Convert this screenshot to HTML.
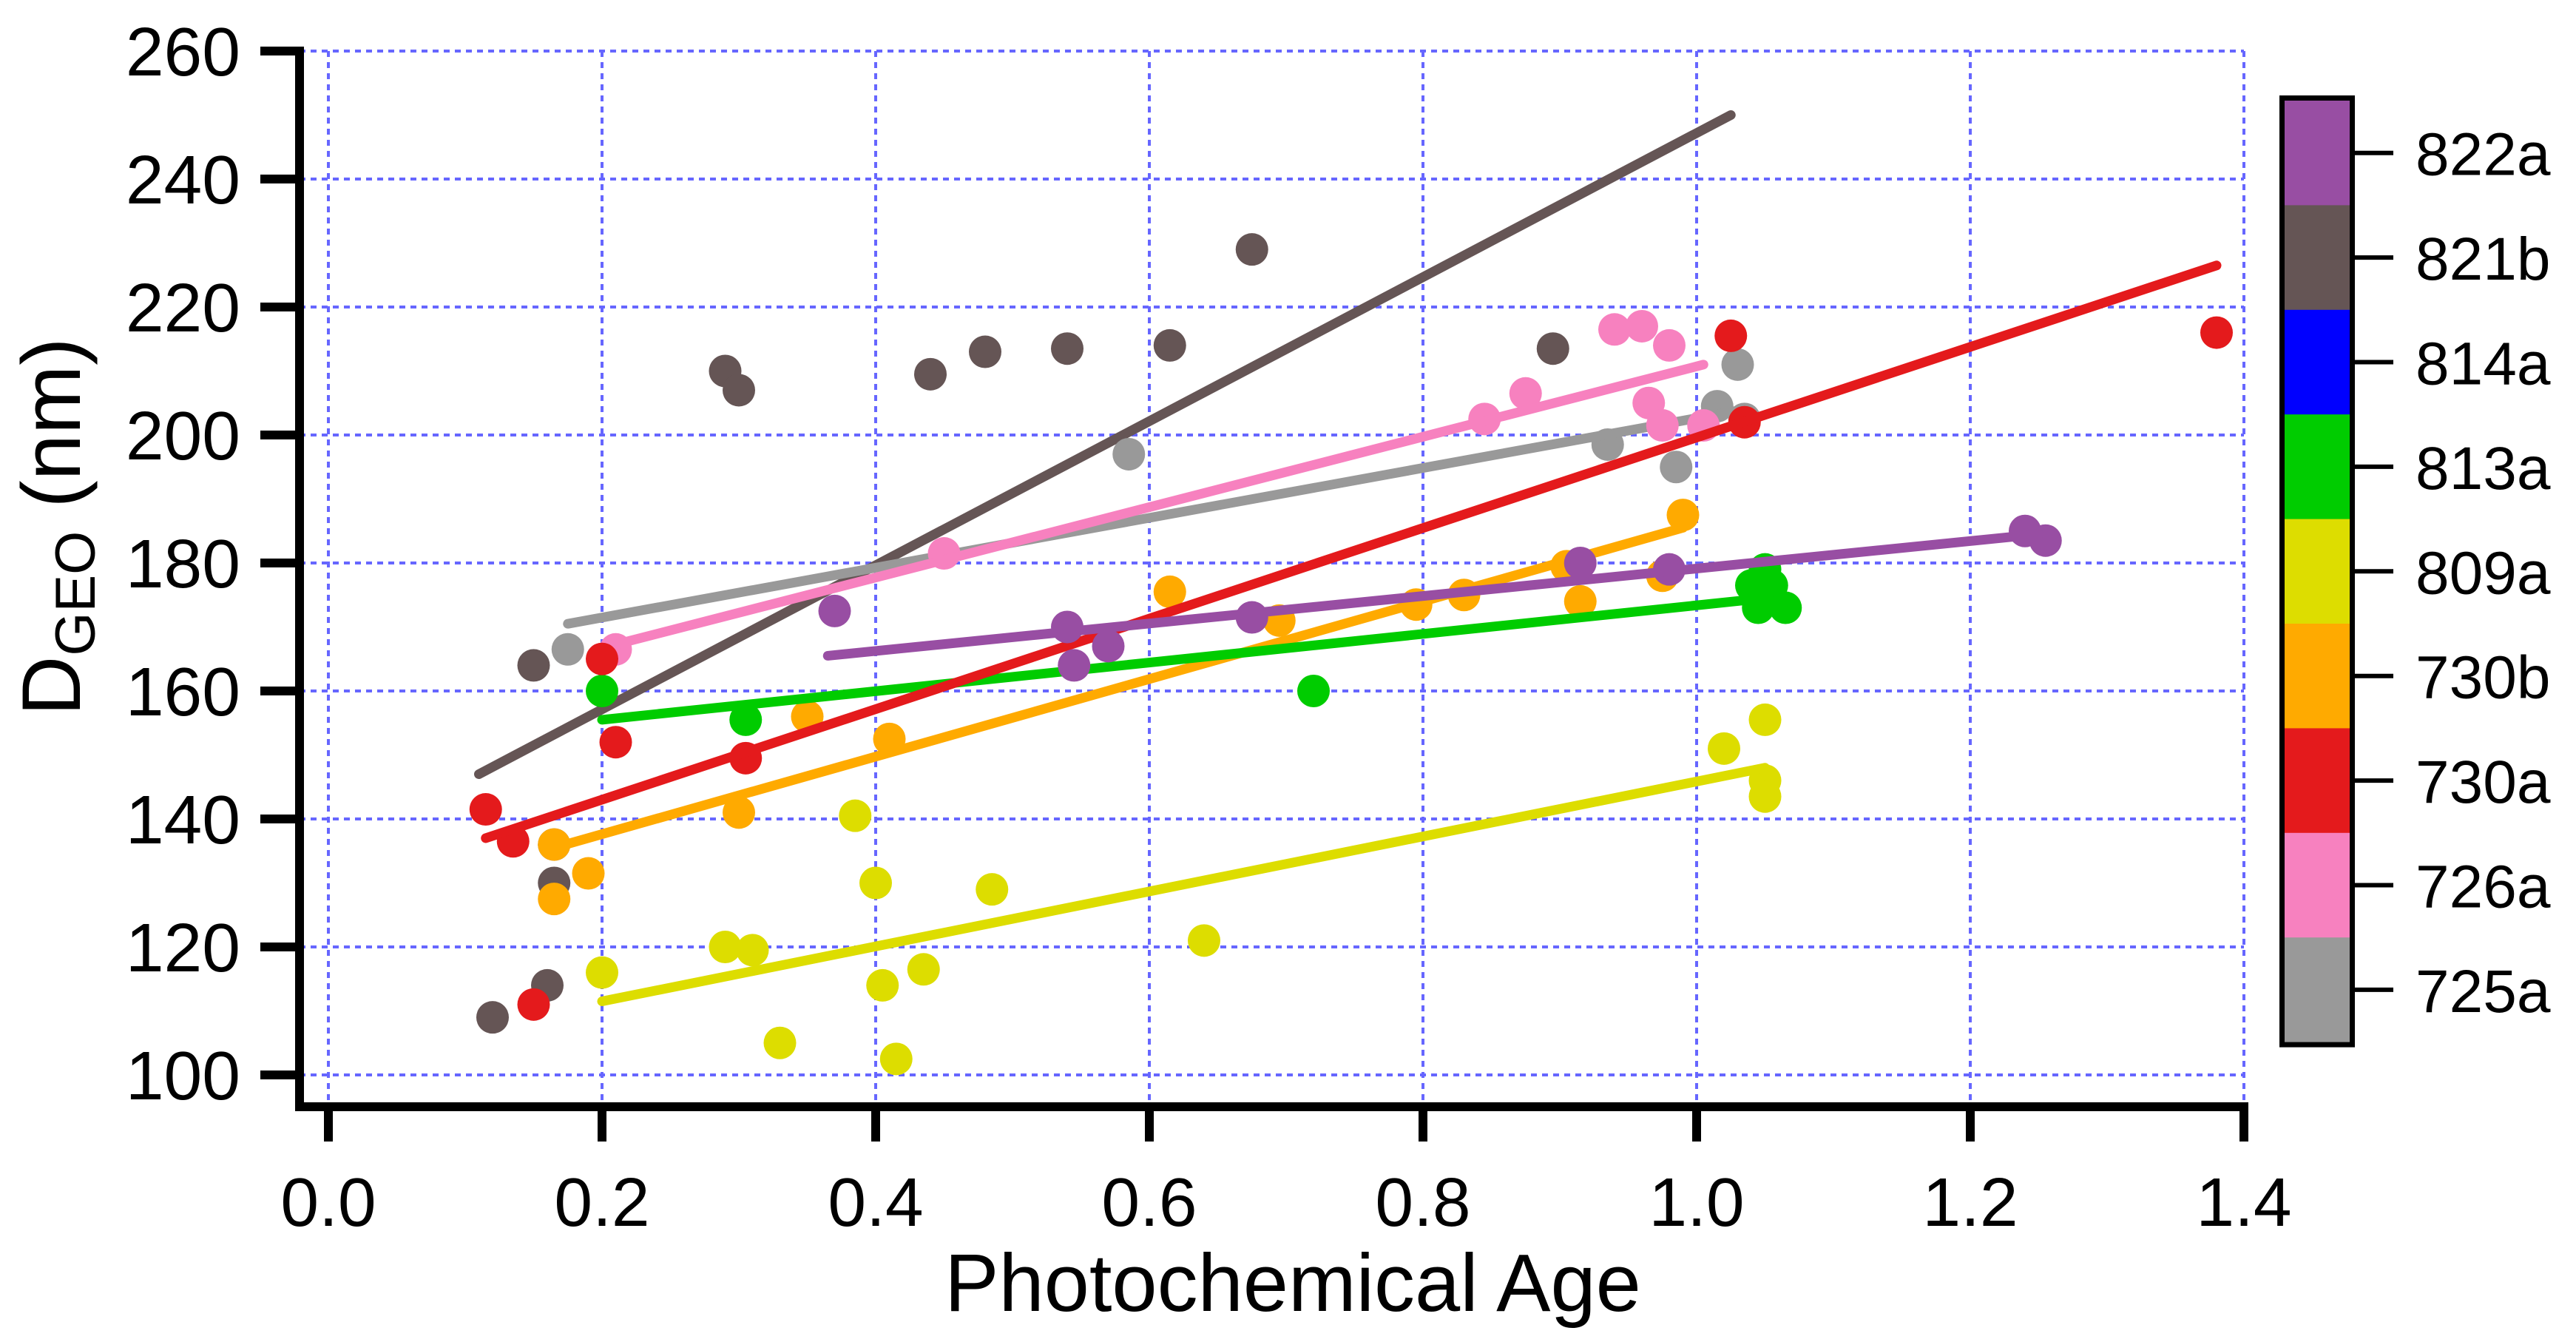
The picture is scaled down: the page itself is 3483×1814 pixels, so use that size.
<!DOCTYPE html>
<html><head><meta charset="utf-8"><style>
html,body{margin:0;padding:0;background:#fff;}
svg{display:block;font-family:"Liberation Sans",Arial,sans-serif;}
</style></head><body>
<svg id="chart" width="3483" height="1814" viewBox="0 0 3483 1814" xmlns="http://www.w3.org/2000/svg">
<g id="grid"></g>
<g id="marks"></g>
<g id="axes"></g>
<g id="cbar"></g>
</svg>
<script>
const seriesNames = ["725a","726a","730a","730b","809a","813a","814a","821b","822a"];
const seriesColors = ["#999999","#f781bf","#e41a1c","#ffaa00","#dddd00","#00cc00","#0000ff","#655555","#984ea3"];
const xTicks = [0,0.2,0.4,0.6,0.8,1.0,1.2,1.4];
const xTickLabels = ["0.0","0.2","0.4","0.6","0.8","1.0","1.2","1.4"];
const yTicks = [100,120,140,160,180,200,220,240,260];
const yTickLabels = ["100","120","140","160","180","200","220","240","260"];

const x_821b = [0.12,0.16,0.165,0.165,0.15,0.29,0.30,0.44,0.48,0.54,0.615,0.675,0.895];
const y_821b = [109,114,130,136,164,210,207,209.5,213,213.5,214,229,213.5];
const x_725a = [0.175,0.585,0.935,0.985,1.015,1.03,1.035];
const y_725a = [166.5,197,198.5,195,204.5,211,202.5];
const x_726a = [0.21,0.45,0.845,0.875,0.94,0.96,0.98,0.965,0.975,1.005];
const y_726a = [166.5,181.5,202.5,206.5,216.5,217,214,205,201.5,201.5];
const x_730a = [0.115,0.135,0.15,0.2,0.21,0.305,1.025,1.035,1.38];
const y_730a = [141.5,136.5,111,165,152,149.5,215.5,202,216];
const x_730b = [0.165,0.165,0.19,0.30,0.35,0.41,0.615,0.695,0.795,0.83,0.905,0.915,0.975,0.99];
const y_730b = [127.5,136,131.5,141,156,152.5,175.5,171,173.5,175,179.5,174,178,187.5];
const x_809a = [0.2,0.29,0.31,0.33,0.385,0.4,0.405,0.415,0.435,0.485,0.64,1.02,1.05,1.05,1.05];
const y_809a = [116,120,119.5,105,140.5,130,114,102.5,116.5,129,121,151,155.5,146,143.5];
const x_813a = [0.2,0.305,0.72,1.04,1.045,1.05,1.055,1.065];
const y_813a = [160,155.5,160,176.5,173,179,176.5,173];
const x_822a = [0.37,0.54,0.545,0.57,0.675,0.915,0.98,1.24,1.255];
const y_822a = [172.5,170,164,167,171.5,180,179,185,183.5];

// fit lines: [x0, y0, x1, y1]
const fit_725a = [0.175,170.5,1.035,204];
const fit_726a = [0.205,167,1.005,211];
const fit_730a = [0.115,137,1.38,226.5];
const fit_730b = [0.165,135.5,0.99,185.5];
const fit_809a = [0.2,111.5,1.05,148];
const fit_813a = [0.2,155.5,1.05,174.5];
const fit_821b = [0.11,147,1.025,250];
const fit_822a = [0.365,165.5,1.25,184.5];

const NS="http://www.w3.org/2000/svg";
const X0=444, XS=1850, Y0=1453, YS=8.65;
function sx(v){return X0+v*XS;}
function sy(v){return Y0-(v-100)*YS;}
function mk(tag,attrs,parent){const e=document.createElementNS(NS,tag);for(const k in attrs)e.setAttribute(k,attrs[k]);parent.appendChild(e);return e;}

const grid=document.getElementById('grid'), marks=document.getElementById('marks'), axes=document.getElementById('axes'), cbar=document.getElementById('cbar');
xTicks.forEach(t=>{const l=mk('line',{x1:sx(t),x2:sx(t),y1:sy(260),y2:sy(100)+39,stroke:'#6666ff','stroke-width':4,'stroke-dasharray':'8 7'},grid);

});
yTicks.forEach(t=>{const l=mk('line',{x1:405,x2:sx(1.4),y1:sy(t),y2:sy(t),stroke:'#6666ff','stroke-width':4,'stroke-dasharray':'8 7'},grid);

});

const series=[
 ["821b",x_821b,y_821b,fit_821b],
 ["725a",x_725a,y_725a,fit_725a],
 ["726a",x_726a,y_726a,fit_726a],
 ["730b",x_730b,y_730b,fit_730b],
 ["809a",x_809a,y_809a,fit_809a],
 ["813a",x_813a,y_813a,fit_813a],
 ["730a",x_730a,y_730a,fit_730a],
 ["822a",x_822a,y_822a,fit_822a]
];
series.forEach(s=>{
 const col=seriesColors[seriesNames.indexOf(s[0])];
 const g=mk('g',{},marks);
 
 
 s[1].forEach((xv,i)=>{const c=mk('circle',{cx:sx(xv),cy:sy(s[2][i]),r:22,fill:col},g);
  
  });
 const f=s[3];
 const l=mk('line',{x1:sx(f[0]),y1:sy(f[1]),x2:sx(f[2]),y2:sy(f[3]),stroke:col,'stroke-width':13,'stroke-linecap':'round'},g);
 
 
});

const ya=mk('line',{x1:405,x2:405,y1:sy(260)-6,y2:1502,stroke:'#000','stroke-width':12},axes);


const xa=mk('line',{x1:399,x2:sx(1.4)+6,y1:1496,y2:1496,stroke:'#000','stroke-width':12},axes);


yTicks.forEach((t,i)=>{
 const tk=mk('line',{x1:352,x2:405,y1:sy(t),y2:sy(t),stroke:'#000','stroke-width':12},axes);
 
 
 const tx=mk('text',{x:325,y:sy(t)+33,'text-anchor':'end','font-size':93},axes);
 tx.textContent=yTickLabels[i];
 
 
});
xTicks.forEach((t,i)=>{
 const tk=mk('line',{x1:sx(t),x2:sx(t),y1:1496,y2:1543,stroke:'#000','stroke-width':12},axes);
 
 
 const tx=mk('text',{x:sx(t),y:1657,'text-anchor':'middle','font-size':93},axes);
 tx.textContent=xTickLabels[i];
 
 
});
const xt=mk('text',{x:1748,y:1772,'text-anchor':'middle','font-size':110},axes);
xt.textContent='Photochemical Age';


const yt=mk('text',{x:0,y:0,'text-anchor':'middle','font-size':112,transform:'translate(108,712) rotate(-90)'},axes);
yt.innerHTML='D<tspan font-size="76" dy="20">GEO</tspan><tspan dy="-20"> (nm)</tspan>';



const CB_TOP=136, SEG=141.4, CB_L=3089, CB_W=88;
for(let i=0;i<seriesNames.length;i++){
 const idx=seriesNames.length-1-i;
 const r=mk('rect',{x:CB_L,y:CB_TOP+i*SEG,width:CB_W,height:SEG+0.5,fill:seriesColors[idx]},cbar);
 
 
 const tk=mk('line',{x1:CB_L+CB_W,x2:3236,y1:CB_TOP+(i+0.5)*SEG,y2:CB_TOP+(i+0.5)*SEG,stroke:'#000','stroke-width':6},cbar);
 
 
 const tx=mk('text',{x:3266,y:CB_TOP+(i+0.5)*SEG+30,'font-size':82},cbar);
 tx.textContent=seriesNames[idx];
 
 
}
const fr=mk('rect',{x:CB_L-3.5,y:CB_TOP-3.5,width:CB_W+7,height:SEG*9+7,fill:'none',stroke:'#000','stroke-width':7},cbar);


</script>
</body></html>
